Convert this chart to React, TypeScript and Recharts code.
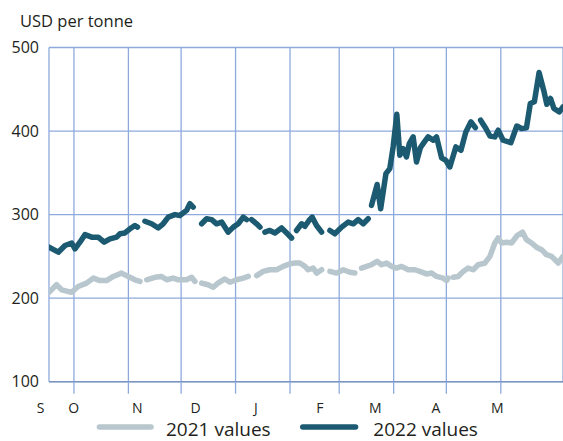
import React from 'react';
import { LineChart, Line, XAxis, YAxis, CartesianGrid } from 'recharts';

// x values are day numbers counted from 1 September
const monthStarts = [30, 61, 91, 122, 153, 181, 212, 242, 273];
const monthLabelDays = [11, 29.8, 66, 99.3, 133.5, 170, 201.5, 236, 271];
const monthLetters = ['S', 'O', 'N', 'D', 'J', 'F', 'M', 'A', 'M'];
const yTicks = [100, 200, 300, 400, 500];

const days2022 = [
  15.8, 21.1, 24.9, 28.7, 30.6, 33.4, 36.3, 40.1, 43.8, 47.2, 50.5, 54.3, 56.2, 59, 61.9, 64.7, 66.2,
  68.3,
  70.4, 74.2, 78, 80.8, 83.7, 87.5, 90.3, 94.1, 96, 97.9,
  100.3,
  102.7, 105.5, 108.4, 111.2, 114.1, 117.8, 120.7, 123.5, 126.4, 128.3,
  129.7,
  131.1, 134, 135.9,
  137.3,
  138.7, 141.5, 144.4, 148.2, 151.1, 153.9,
  155.3,
  156.7, 159.6, 161.5, 163.8, 165.6, 168.1, 171,
  173.4,
  175.7, 178.5, 182.4, 186.1, 189, 191.8, 194.7, 197.5,
  198.5,
  199.4, 202.6, 204.6, 207.6, 209.8, 211.7, 213.8, 215.5, 217.4, 219.3, 220.9, 223.1, 225, 227.2, 229.5,
  231.6, 234.5, 236.4, 239.3, 241.7, 244, 247.4, 250.3, 253.1, 256, 258.5,
  260,
  261.5, 264.5, 266.8, 269.6, 271.5, 274.3, 278.7, 282.1, 284.8, 287.6, 289.8, 292.1, 294.8, 297.5,
  299.2, 301.3, 303.2, 306.3, 308.4,
];
const values2022 = [
  261, 255, 263, 266, 259, 267, 276, 273, 273, 267, 271, 273, 277, 278, 283, 287, 285,
  null,
  292, 289, 284, 289, 297, 300, 299, 305, 313, 309,
  null,
  289, 295, 294, 289, 291, 279, 285, 289, 297, 294,
  null,
  294, 289, 285,
  null,
  279, 281, 278, 284, 278, 272,
  null,
  281, 289, 286, 293, 297, 287, 279,
  null,
  281, 277, 285, 291, 289, 294, 289, 295,
  null,
  311, 336, 307, 349, 355, 381, 420, 371, 379, 369, 385, 393, 363, 380, 387,
  393, 389, 393, 368, 365, 357, 381, 377, 399, 411, 404,
  null,
  413, 403, 394, 393, 401, 389, 386, 406, 403, 404, 433, 435, 470, 448,
  432, 439, 427, 423, 429,
];

const days2021 = [
  15.8, 20.1, 23, 28.7, 32.4, 37.2, 41, 44.8, 48.6, 52.4, 57.1, 60.9, 64.7, 67.6,
  69.5,
  71.4, 76.1, 79.9, 82.8, 86.5, 89.4, 94.1, 97, 98.9,
  100.8,
  102.7, 106.3, 109.3, 112, 115.9, 118.8, 122.6, 126.4, 129.2,
  131.5,
  134, 137.7, 141.5, 145.4, 149.1, 152.9, 155.8, 158.6, 161.5, 163.3, 166.2, 168.1, 171,
  173.3,
  175.7, 179.5, 183.3, 187.1, 189.9,
  191.8,
  193.7, 196.6, 199.4, 202.6, 205.1, 207.9, 210.8, 213.6, 216.5, 220.3, 224.1, 226.9, 230.7, 233.6,
  236.4, 240.2, 242.1, 243,
  244.5,
  245.9, 248.7, 251.6, 254.4, 257.3, 260.1, 263.9, 266.8, 269.6, 271.5, 273.4, 276.3, 279.1, 282.3,
  285.4, 287.6, 290.5, 293.3, 296.2, 299, 301.9, 305.7, 308.4,
];
const values2021 = [
  207, 216, 210, 207, 214, 218, 224, 221, 221, 226, 230, 226, 222, 220,
  null,
  222, 225, 226, 222, 224, 222, 222, 225, 220,
  null,
  218, 216, 213, 218, 223, 219, 222, 224, 226,
  null,
  227, 232, 234, 234, 238, 241, 242, 242, 238, 234, 236, 230, 234,
  null,
  232, 230, 234, 231, 230,
  null,
  236, 238, 240, 244, 240, 242, 238, 236, 238, 234, 234, 232, 229, 230,
  226, 224, 221, 224,
  null,
  225, 226, 232, 236, 234, 240, 242, 250, 266, 272, 266, 267, 266, 275,
  279, 270, 266, 261, 258, 252, 250, 242, 250,
];

const data2022 = days2022.map((d, i) => ({ d, v: values2022[i] }));
const data2021 = days2021.map((d, i) => ({ d, v: values2021[i] }));

const FONT = "'Open Sans', 'Noto Sans', sans-serif";
const TEXT = '#231f20';
const GRID = '#8eaadc';
const AXIS = '#7b93c0';
const C2021 = '#b8c6cd';
const C2022 = '#1b5a71';
const DOMAIN: [number, number] = [15.8, 308.4];

export default function App() {
  return (
    <div style={{ position: 'absolute', left: 0, top: 0, width: 563, height: 441, background: '#fff' }}>
      <LineChart width={563} height={441} margin={{ top: 47.5, right: 0, bottom: 25.3, left: 0 }}>
        <CartesianGrid stroke={GRID} strokeWidth={1.3} />
        <XAxis
          type="number"
          dataKey="d"
          domain={DOMAIN}
          allowDataOverflow
          ticks={monthStarts}
          interval={0}
          tickFormatter={() => ''}
          tickSize={12}
          tickLine={{ stroke: GRID, strokeWidth: 1.3 }}
          axisLine={{ stroke: AXIS, strokeWidth: 1.6 }}
          height={12}
        />
        <XAxis
          xAxisId="lbl"
          type="number"
          dataKey="d"
          domain={DOMAIN}
          allowDataOverflow
          ticks={monthLabelDays}
          interval={0}
          tickFormatter={(v: number) => monthLetters[monthLabelDays.indexOf(v)]}
          axisLine={false}
          tickLine={false}
          tickSize={0}
          tickMargin={9}
          height={22}
          tick={{ fontSize: 14, fill: TEXT, fontFamily: FONT }}
        />
        <YAxis
          type="number"
          domain={[100, 500]}
          ticks={yTicks}
          interval={0}
          width={49}
          axisLine={false}
          tickLine={false}
          tickSize={0}
          tickMargin={10}
          tick={{ fontSize: 16, fill: TEXT, fontFamily: FONT }}
        />
        <Line
          data={data2021}
          dataKey="v"
          type="linear"
          stroke={C2021}
          strokeWidth={5.5}
          strokeLinecap="round"
          strokeLinejoin="round"
          dot={false}
          activeDot={false}
          connectNulls={false}
          isAnimationActive={false}
        />
        <Line
          data={data2022}
          dataKey="v"
          type="linear"
          stroke={C2022}
          strokeWidth={5.5}
          strokeLinecap="round"
          strokeLinejoin="round"
          dot={false}
          activeDot={false}
          connectNulls={false}
          isAnimationActive={false}
        />
      </LineChart>
      <svg
        width={563}
        height={441}
        style={{ position: 'absolute', left: 0, top: 0, pointerEvents: 'none' }}
      >
        <text x={20} y={26.5} fontSize={16.5} fill={TEXT} fontFamily={FONT}>
          USD per tonne
        </text>
        <line x1={99.5} x2={151} y1={427} y2={427} stroke={C2021} strokeWidth={5.6} strokeLinecap="round" />
        <text x={166} y={435.5} fontSize={19} fill={TEXT} fontFamily={FONT}>
          2021 values
        </text>
        <line x1={302.8} x2={355.5} y1={427} y2={427} stroke={C2022} strokeWidth={5.6} strokeLinecap="round" />
        <text x={373.3} y={435.5} fontSize={19} fill={TEXT} fontFamily={FONT}>
          2022 values
        </text>
      </svg>
    </div>
  );
}
